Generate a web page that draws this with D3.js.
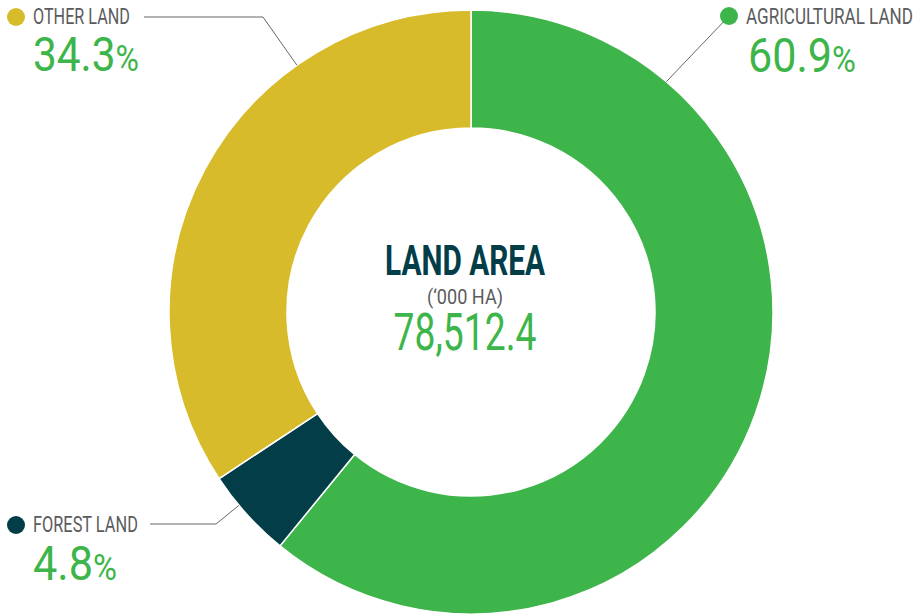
<!DOCTYPE html>
<html><head><meta charset="utf-8">
<script src="https://cdn.jsdelivr.net/npm/d3@7/dist/d3.min.js"></script>
<style>html,body{margin:0;padding:0;background:#fff;}svg{display:block;}</style>
</head><body>
<svg id="chart" width="924" height="616"></svg>
<script>
const categories = ["AGRICULTURAL LAND", "FOREST LAND", "OTHER LAND"];
const values = [60.9, 4.8, 34.3];
const valueLabels = ["60.9", "4.8", "34.3"];
const colors = ["#3db54a", "#023d48", "#d8bb2a"];
const centerTitle = "LAND AREA";
const centerUnit = "(‘000 HA)";
const centerValue = "78,512.4";

const svg = d3.select("#chart");
const cx = 471, cy = 312, rOuter = 302, rInner = 184;
const font = "Roboto, 'Noto Sans', sans-serif";
const green = "#3db54a", grey = "#5b5b5d";

const pie = d3.pie().sort(null).value(d => d);
const arcs = pie(values);
const arc = d3.arc().innerRadius(rInner).outerRadius(rOuter);

const g = svg.append("g").attr("transform", `translate(${cx},${cy})`);
g.selectAll("path").data(arcs).join("path")
  .attr("d", arc).attr("fill", (d, i) => colors[i])
  .attr("stroke", "#fff").attr("stroke-width", 1.5);

// condense a text to a target width with a horizontal scale
function fit(sel, x, y, target) {
  const w0 = sel.node().getComputedTextLength();
  sel.attr("transform", `translate(${x},${y}) scale(${target / w0},1)`);
  return sel;
}

// label layouts (positions only)
const layout = [
  { dot: [729, 16], text: [746, 24], w: 167, pct: [748, 72], pw: 108, anchorDeg: 40.3, line: null },
  { dot: [16, 525], text: [33, 532], w: 105, pct: [33, 580], pw: 84, anchorDeg: 230.2, line: [[150, 524], [216, 524]] },
  { dot: [16, 17], text: [33, 24], w: 97, pct: [33, 71], pw: 106, anchorDeg: 324.8, line: [[144, 17], [263, 17]] }
];

categories.forEach((c, i) => {
  const L = layout[i];
  const a = L.anchorDeg * Math.PI / 180;
  const ax = cx + rOuter * Math.sin(a), ay = cy - rOuter * Math.cos(a);
  const pts = L.line ? [...L.line, [ax, ay]] : [L.dot, [ax, ay]];
  svg.append("path").attr("d", d3.line()(pts))
    .attr("fill", "none").attr("stroke", "#666").attr("stroke-width", 1);
  svg.append("circle").attr("cx", L.dot[0]).attr("cy", L.dot[1]).attr("r", 9).attr("fill", colors[i]);
  const lt = svg.append("text")
    .attr("font-family", font).attr("font-size", 22.5).attr("fill", grey).text(c);
  fit(lt, L.text[0], L.text[1], L.w);
  const t = svg.append("text")
    .attr("font-family", font).attr("font-size", 49).attr("fill", green);
  t.append("tspan").text(valueLabels[i]);
  t.append("tspan").attr("font-size", 37).text("%");
  fit(t, L.pct[0], L.pct[1], L.pw);
});

fit(svg.append("text").attr("text-anchor", "middle")
  .attr("font-family", font).attr("font-weight", 700).attr("font-size", 42).attr("fill", "#023d48")
  .text(centerTitle), 465, 275, 160);
fit(svg.append("text").attr("text-anchor", "middle")
  .attr("font-family", font).attr("font-size", 21).attr("fill", grey)
  .text(centerUnit), 465, 304, 76);
fit(svg.append("text").attr("text-anchor", "middle")
  .attr("font-family", font).attr("font-size", 52).attr("fill", green)
  .text(centerValue), 465, 350, 143);
</script>
</body></html>
